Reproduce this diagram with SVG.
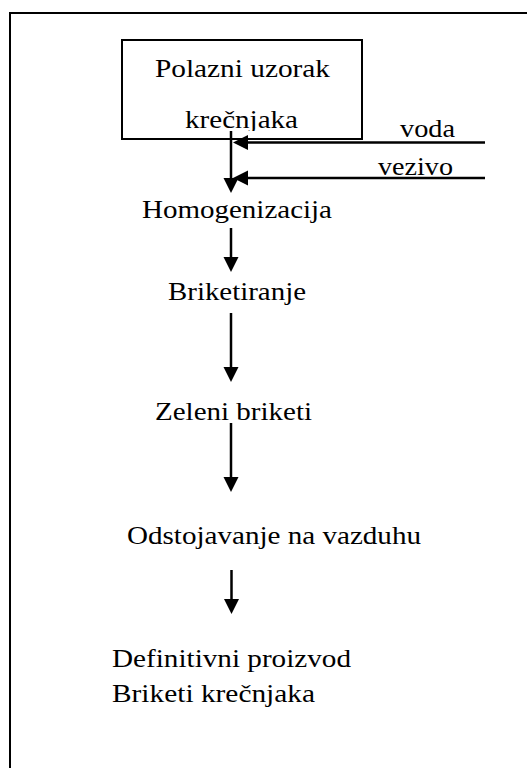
<svg xmlns="http://www.w3.org/2000/svg" width="527" height="768" viewBox="0 0 527 768">
<style>
text{font-family:'Liberation Serif','Times New Roman',serif;font-size:25px;fill:#000}
.ln{stroke:#000;stroke-width:2.5;fill:none}
.bx{stroke:#000;stroke-width:2;fill:#fff}
</style>
<defs>
<marker id="ah" markerUnits="userSpaceOnUse" markerWidth="16" markerHeight="16" refX="3" refY="7.5" orient="auto" viewBox="0 0 16 16">
<path d="M0,0 L15,7.5 L0,15 z" fill="#000"/>
</marker>
<clipPath id="boxclip"><rect x="120" y="38" width="244" height="93"/></clipPath>
</defs>
<rect x="10" y="13" width="600" height="800" fill="none" stroke="#000" stroke-width="2"/>
<g id="start">
<rect class="bx" x="122" y="40" width="240" height="99"/>
<text x="155" y="77" textLength="175" lengthAdjust="spacingAndGlyphs">Polazni uzorak</text>
<text x="185" y="128" clip-path="url(#boxclip)" textLength="113" lengthAdjust="spacingAndGlyphs">krečnjaka</text>
</g>
<g id="voda"><text x="400" y="137" textLength="55" lengthAdjust="spacingAndGlyphs">voda</text></g>
<g id="vezivo"><text x="378" y="175" textLength="75" lengthAdjust="spacingAndGlyphs">vezivo</text></g>
<g id="homogenizacija"><text x="142" y="218" textLength="190" lengthAdjust="spacingAndGlyphs">Homogenizacija</text></g>
<g id="briketiranje"><text x="168" y="300" textLength="138" lengthAdjust="spacingAndGlyphs">Briketiranje</text></g>
<g id="zeleni"><text x="155" y="420" textLength="157" lengthAdjust="spacingAndGlyphs">Zeleni briketi</text></g>
<g id="odstojavanje"><text x="127" y="544" textLength="294" lengthAdjust="spacingAndGlyphs">Odstojavanje na vazduhu</text></g>
<g id="definitivni">
<text x="112" y="667" textLength="239" lengthAdjust="spacingAndGlyphs">Definitivni proizvod</text>
<text x="112" y="702" textLength="203" lengthAdjust="spacingAndGlyphs">Briketi krečnjaka</text>
</g>
<g id="connectors">
<line class="ln" x1="231" y1="131" x2="231" y2="181" marker-end="url(#ah)"/>
<line class="ln" x1="485" y1="142.5" x2="245" y2="142.5" marker-end="url(#ah)"/>
<line class="ln" x1="485" y1="178" x2="245" y2="178" marker-end="url(#ah)"/>
<line class="ln" x1="231" y1="228" x2="231" y2="260" marker-end="url(#ah)"/>
<line class="ln" x1="231" y1="313" x2="231" y2="370" marker-end="url(#ah)"/>
<line class="ln" x1="231" y1="423" x2="231" y2="480" marker-end="url(#ah)"/>
<line class="ln" x1="231.5" y1="570" x2="231.5" y2="602" marker-end="url(#ah)"/>
</g>
</svg>
